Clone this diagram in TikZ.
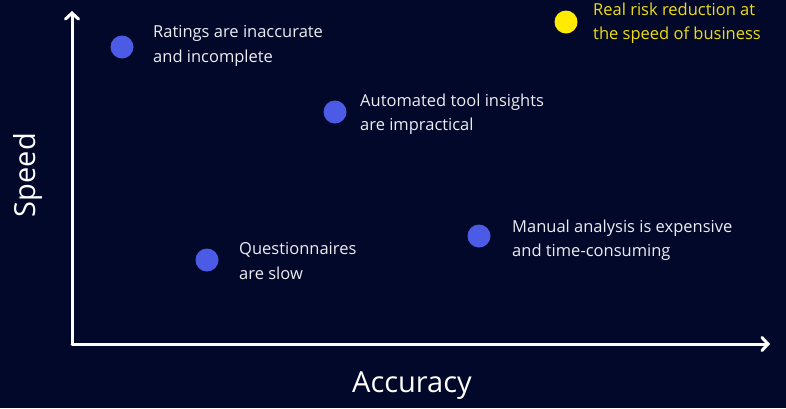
\documentclass[tikz,border=0pt]{standalone}
\usepackage{fontspec}
\setmainfont{Open Sans}
\usetikzlibrary{arrows.meta}
\definecolor{bg}{HTML}{020829}
\definecolor{dotblue}{HTML}{4B5BE6}
\definecolor{dotyellow}{HTML}{FFEB00}
\definecolor{txtyellow}{HTML}{EEDD10}
\definecolor{txtwhite}{HTML}{ECECF2}
\begin{document}
\begin{tikzpicture}[x=1pt,y=-1pt,
  dot/.style={circle,fill=dotblue,minimum size=23pt,inner sep=0pt},
  ydot/.style={circle,fill=dotyellow,minimum size=23pt,inner sep=0pt},
  lbl/.style={anchor=west,align=left,inner sep=0pt,text=txtwhite,font=\fontsize{16.5}{24.5}\selectfont},
  axis/.style={draw=white,line width=3pt,line cap=round,line join=round,-{Straight Barb[length=6pt,width=13pt,line cap=round]}},
  axlbl/.style={text=white,inner sep=0pt,font=\fontsize{29}{34}\selectfont}]
\fill[bg] (0,0) rectangle (786,408);
\useasboundingbox (0,0) rectangle (786,408);
\coordinate (o) at (72,344);
\coordinate (ytop) at (72,11);
\coordinate (xend) at (770,344);
\draw[axis] (o) -- (ytop);
\draw[axis] (o) -- (xend);
\node[axlbl,rotate=90] (speed) at (28,175) {Speed};
\node[axlbl] (acc) at (412,386) {Accuracy};
\node[dot] (d1) at (122,47) {};
\node[lbl] (t1) at (153,46) {Ratings are inaccurate\\and incomplete};
\node[dot] (d2) at (335,112) {};
\node[lbl] (t2) at (360,114) {Automated tool insights\\are impractical};
\node[dot] (d3) at (479,236) {};
\node[lbl] (t3) at (512,240) {Manual analysis is expensive\\and time-consuming};
\node[dot] (d4) at (207,260) {};
\node[lbl] (t4) at (239,261) {Questionnaires\\are slow};
\node[ydot] (d5) at (566,22) {};
\node[lbl,text=txtyellow] (t5) at (593,23) {Real risk reduction at\\the speed of business};
\end{tikzpicture}
\end{document}
